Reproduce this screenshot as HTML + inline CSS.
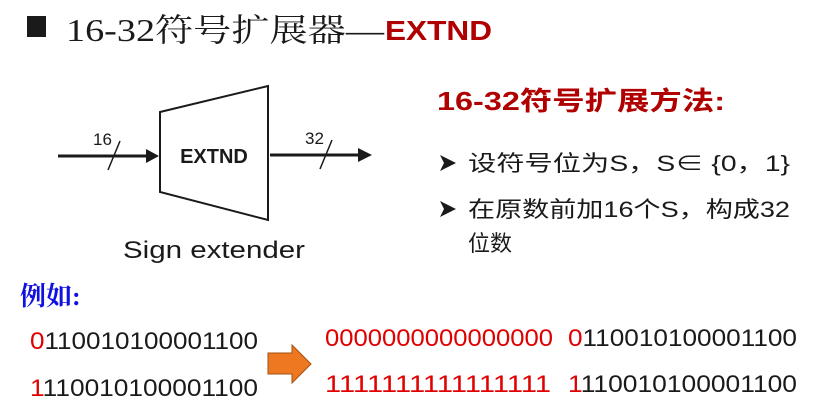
<!DOCTYPE html>
<html><head><meta charset="utf-8"><style>
html,body{margin:0;padding:0;background:#fff;}
svg{display:block;}
</style></head><body>
<svg width="832" height="416" viewBox="0 0 832 416" xmlns="http://www.w3.org/2000/svg">
<rect x="27" y="16" width="19" height="21" fill="#1a1a1a"/>
<text x="66" y="41" font-family="'Liberation Serif','Noto Serif CJK SC',serif" font-size="32" fill="#1a1a1a" textLength="318" lengthAdjust="spacingAndGlyphs">16-32符号扩展器—</text>
<text x="385" y="40" font-family="'Liberation Sans',sans-serif" font-weight="bold" font-size="28" fill="#b00000" textLength="107" lengthAdjust="spacingAndGlyphs">EXTND</text>

<polygon points="160,112 268,86 268,220 160,192" fill="none" stroke="#1a1a1a" stroke-width="2"/>
<text x="214" y="163" text-anchor="middle" font-family="'Liberation Sans',sans-serif" font-weight="bold" font-size="20" fill="#1a1a1a">EXTND</text>
<line x1="58" y1="156" x2="148" y2="156" stroke="#1a1a1a" stroke-width="3"/>
<polygon points="146,149 159,156 146,163" fill="#1a1a1a"/>
<line x1="108" y1="170" x2="120" y2="141" stroke="#1a1a1a" stroke-width="1.5"/>
<text x="93" y="145" font-family="'Liberation Sans',sans-serif" font-size="17" fill="#1a1a1a">16</text>
<line x1="270" y1="155" x2="360" y2="155" stroke="#1a1a1a" stroke-width="3"/>
<polygon points="358,148 372,155 358,162" fill="#1a1a1a"/>
<line x1="320" y1="169" x2="332" y2="140" stroke="#1a1a1a" stroke-width="1.5"/>
<text x="305" y="144" font-family="'Liberation Sans',sans-serif" font-size="17" fill="#1a1a1a">32</text>
<text x="214" y="258" text-anchor="middle" font-family="'Liberation Sans',sans-serif" font-size="24" fill="#1a1a1a" textLength="182" lengthAdjust="spacingAndGlyphs">Sign extender</text>

<text x="437" y="110" font-family="'Liberation Sans','Noto Sans CJK SC',sans-serif" font-weight="bold" font-size="26" fill="#b00000" textLength="288" lengthAdjust="spacingAndGlyphs">16-32符号扩展方法:</text>
<polygon points="440,155 456,163 440,171 444,163" fill="#1a1a1a"/>
<text x="468" y="171" font-family="'Liberation Sans','Noto Sans CJK SC',sans-serif" font-size="22" fill="#1a1a1a" textLength="322" lengthAdjust="spacingAndGlyphs">设符号位为S，S∈ {0，1}</text>
<polygon points="440,201 456,209 440,217 444,209" fill="#1a1a1a"/>
<text x="468" y="217" font-family="'Liberation Sans','Noto Sans CJK SC',sans-serif" font-size="22" fill="#1a1a1a" textLength="322" lengthAdjust="spacingAndGlyphs">在原数前加16个S，构成32</text>
<text x="468" y="251" font-family="'Liberation Sans','Noto Sans CJK SC',sans-serif" font-size="22" fill="#1a1a1a">位数</text>

<text x="20" y="305" font-family="'Liberation Serif','Noto Serif CJK SC',serif" font-weight="bold" font-size="26" fill="#1010e0">例如:</text>

<g font-family="'Liberation Sans',sans-serif" font-size="24">
<text x="30" y="349" fill="#1a1a1a" textLength="228" lengthAdjust="spacingAndGlyphs"><tspan fill="#e00000">0</tspan>110010100001100</text>
<text x="30" y="396" fill="#1a1a1a" textLength="228" lengthAdjust="spacingAndGlyphs"><tspan fill="#e00000">1</tspan>110010100001100</text>
<text x="325" y="346" fill="#e00000" textLength="228" lengthAdjust="spacingAndGlyphs">0000000000000000</text>
<text x="325" y="392" fill="#e00000" textLength="226" lengthAdjust="spacingAndGlyphs">1111111111111111</text>
<text x="568" y="346" fill="#1a1a1a" textLength="229" lengthAdjust="spacingAndGlyphs"><tspan fill="#e00000">0</tspan>110010100001100</text>
<text x="568" y="392" fill="#1a1a1a" textLength="229" lengthAdjust="spacingAndGlyphs"><tspan fill="#e00000">1</tspan>110010100001100</text>
</g>
<polygon points="268,353 292,353 292,345 311,364 292,383 292,374 268,374" fill="#ee7722" stroke="#a05010" stroke-width="1"/>
</svg>
</body></html>
